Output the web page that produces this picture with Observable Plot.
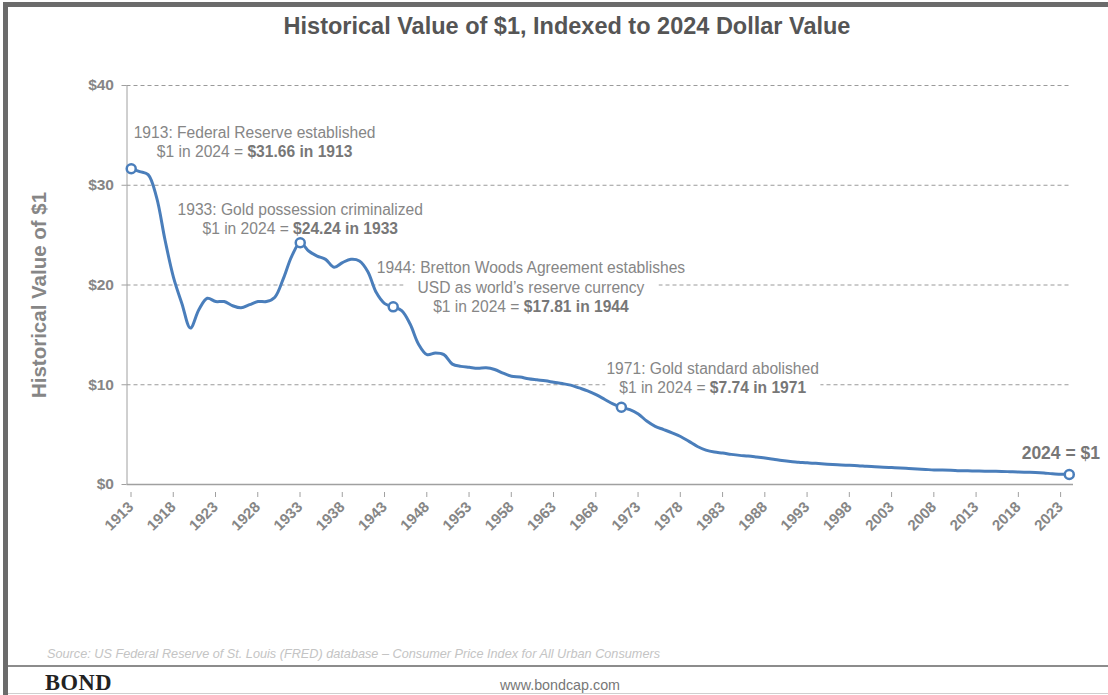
<!DOCTYPE html>
<html>
<head>
<meta charset="utf-8">
<script src="https://cdn.jsdelivr.net/npm/d3@7"></script>
<script src="https://cdn.jsdelivr.net/npm/@observablehq/plot@0.6"></script>
<style>
  html, body { margin: 0; padding: 0; background: #fff; }
  #wrap { position: relative; width: 1108px; height: 695px; overflow: hidden; font-family: "Liberation Sans", Arial, sans-serif; }
  #chart { position: absolute; left: 0; top: 0; }
  .bar { position: absolute; background: #6b6b6b; }
  #title { position: absolute; top: 13px; left: 26px; width: 1082px; text-align: center; font-size: 23.5px; font-weight: bold; color: #555; }
  #source { position: absolute; left: 47px; top: 647px; font-size: 12.7px; font-style: italic; color: #c4c4c4; }
  #bond { position: absolute; left: 45px; top: 670px; font-family: "Liberation Serif", "DejaVu Serif", serif; font-size: 22.5px; font-weight: bold; color: #222; letter-spacing: 0.5px; }
  #web { position: absolute; left: 500px; top: 677px; font-size: 14.3px; color: #777; }
</style>
</head>
<body>
<div id="wrap">
  <div class="bar" style="left:3px; top:2px; width:1105px; height:5px;"></div>
  <div class="bar" style="left:3px; top:2px; width:5px; height:693px;"></div>
  <div class="bar" style="left:8px; top:665px; width:1100px; height:2px; background:#8c8c8c;"></div>
  <div class="bar" style="left:8px; top:693px; width:1100px; height:1px; background:#cfcfcf;"></div>
  <div id="chart"></div>
  <div id="title">Historical Value of $1, Indexed to 2024 Dollar Value</div>
  <div id="source">Source: US Federal Reserve of St. Louis (FRED) database – Consumer Price Index for All Urban Consumers</div>
  <div id="bond">BOND</div>
  <div id="web">www.bondcap.com</div>
</div>
<script>
// Years and value (in 1913..2024 dollars) of $1 of 2024
const years = d3.range(1913, 2025);
const values = [
  31.66, 31.37, 31.06, 28.78, 24.51, 20.77, 18.13, 15.68, 17.52, 18.67,
  18.34, 18.34, 17.92, 17.72, 18.03, 18.34, 18.34, 18.78, 20.64, 22.90,
  24.24, 23.41, 22.90, 22.57, 21.78, 22.25, 22.57, 22.41, 21.34, 19.24,
  18.13, 17.81, 17.43, 16.09, 14.07, 13.02, 13.18, 13.02, 12.07, 11.84,
  11.75, 11.66, 11.70, 11.53, 11.16, 10.85, 10.78, 10.60, 10.49, 10.39,
  10.25, 10.12, 9.96, 9.68, 9.39, 9.01, 8.55, 8.08, 7.74, 7.50,
  7.07, 6.36, 5.83, 5.51, 5.18, 4.81, 4.32, 3.81, 3.45, 3.25,
  3.15, 3.02, 2.92, 2.86, 2.76, 2.65, 2.53, 2.40, 2.30, 2.24,
  2.17, 2.12, 2.06, 2.00, 1.95, 1.92, 1.88, 1.82, 1.77, 1.74,
  1.70, 1.66, 1.61, 1.56, 1.51, 1.46, 1.46, 1.44, 1.39, 1.37,
  1.35, 1.33, 1.32, 1.31, 1.28, 1.25, 1.23, 1.21, 1.16, 1.07,
  1.03, 1.00
];
const markerYears = [1913, 1933, 1944, 1971, 2024];
const xTickYears = d3.range(1913, 2024, 5);
const yTicks = [0, 10, 20, 30, 40];

// Annotation texts and anchor positions (data units)
const noteText = [
  "1913: Federal Reserve established\n$1 in 2024 = |$31.66 in 1913",
  "1933: Gold possession criminalized\n$1 in 2024 = |$24.24 in 1933",
  "1944: Bretton Woods Agreement establishes\nUSD as world’s reserve currency\n$1 in 2024 = |$17.81 in 1944",
  "1971: Gold standard abolished\n$1 in 2024 = |$7.74 in 1971"
];
const noteX = [1927.6, 1933.0, 1960.3, 1981.8];
const noteY = [34.4, 26.7, 19.85, 10.76];
const endLabel = "2024 = $1";
const endX = 2023.0, endY = 3.07;

const data = years.map((year, i) => ({year, value: values[i]}));
const markers = data.filter(d => markerYears.includes(d.year));
const notes = noteText.map((t, i) => ({t, x: noteX[i], y: noteY[i]}));

const blue = "#4a7ebb";
const gray = "#868686";

const chart = Plot.plot({
  width: 1108,
  height: 560,
  marginLeft: 126.5,
  marginRight: 35,
  marginTop: 85,
  marginBottom: 76,
  style: {fontFamily: "'Liberation Sans', Arial, sans-serif", background: "transparent"},
  x: {domain: [1912.5, 2024.5]},
  y: {domain: [0, 40]},
  marks: [
    Plot.ruleY([10, 20, 30, 40], {x1: 1912.5, x2: 2024.2, stroke: "#9a9a9a", strokeDasharray: "4,3", strokeWidth: 1, className: "grid"}),
    Plot.ruleX([1912.5], {y1: 0, y2: 40, stroke: "#a0a0a0", strokeWidth: 1}),
    Plot.ruleY([0], {x1: 1912.5, x2: 2024.5, stroke: "#a0a0a0", strokeWidth: 1.5}),
    Plot.axisY(yTicks, {
      tickFormat: d => "$" + d, label: null, tickSize: 5, tickPadding: 8,
      stroke: "#a0a0a0", fill: gray, fontSize: 15.5, fontWeight: "bold"
    }),
    Plot.axisX(xTickYears.map(y => y - 0.5), {
      tickFormat: d => String(d + 0.5), label: null, tickSize: 5, tickPadding: 7,
      tickRotate: -45, stroke: "#a0a0a0", fill: gray, fontSize: 15, fontWeight: "bold",
      dx: 4, dy: 8
    }),
    Plot.text(["Historical Value of $1"], {
      x: 1912.5, y: 19, dx: -88, rotate: -90,
      fontSize: 20.5, fontWeight: "bold", fill: gray, textAnchor: "middle"
    }),
    Plot.line(data, {x: "year", y: "value", curve: "catmull-rom", stroke: blue, strokeWidth: 3}),
    Plot.dot(markers, {x: "year", y: "value", r: 4.5, fill: "white", stroke: blue, strokeWidth: 2.5}),
    Plot.text(notes, {
      x: "x", y: "y", text: "t", fontSize: 15.6, lineHeight: 1.25, fill: gray,
      textAnchor: "middle", className: "notes"
    }),
    Plot.text([endLabel], {x: endX, y: endY, fontSize: 17.5, fontWeight: "bold", fill: "#777", textAnchor: "middle"})
  ]
});

// Bold the second half of each "=" line
d3.select(chart).selectAll(".notes tspan").each(function() {
  const s = this.textContent;
  if (s.includes("|")) {
    const [a, b] = s.split("|");
    this.textContent = a;
    const t = document.createElementNS("http://www.w3.org/2000/svg", "tspan");
    t.setAttribute("font-weight", "bold");
    t.setAttribute("fill", "#777");
    t.textContent = b;
    this.appendChild(t);
  }
});

document.getElementById("chart").appendChild(chart);

// White boxes behind each annotation line, hiding the gridlines (like the text boxes of the original)
const svgRect = chart.getBoundingClientRect();
const grid = chart.querySelector(".grid");
const boxG = document.createElementNS("http://www.w3.org/2000/svg", "g");
grid.parentNode.insertBefore(boxG, grid.nextSibling);
chart.querySelectorAll(".notes text > tspan").forEach(ts => {
  const r = ts.getBoundingClientRect();
  const rect = document.createElementNS("http://www.w3.org/2000/svg", "rect");
  rect.setAttribute("x", r.left - svgRect.left - 14);
  rect.setAttribute("y", r.top - svgRect.top);
  rect.setAttribute("width", r.width + 28);
  rect.setAttribute("height", r.height);
  rect.setAttribute("fill", "white");
  boxG.appendChild(rect);
});
</script>
</body>
</html>
